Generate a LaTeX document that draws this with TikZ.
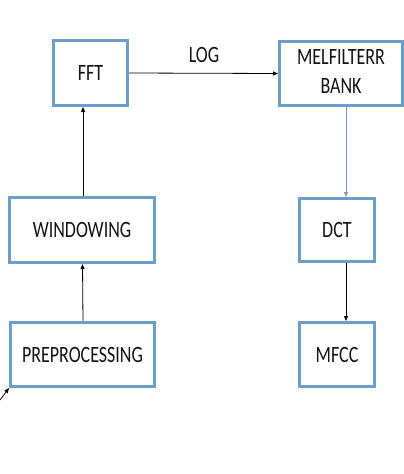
\documentclass[tikz,border=0pt]{standalone}
\usepackage{fontspec}
\setmainfont{Carlito}
\usetikzlibrary{arrows.meta}
\definecolor{boxblue}{RGB}{108,158,204}
\definecolor{linkblue}{RGB}{120,150,190}
\newcommand{\tallt}[1]{\scalebox{1}[1.3]{#1}}
\begin{document}
\begin{tikzpicture}[x=1pt,y=-1pt,
  blockbox/.style={draw=boxblue,line width=3pt,fill=white,inner sep=0pt,
    font=\fontsize{18}{22}\selectfont,text=black!92},
  link/.style={line width=0.8pt,-{Triangle[length=5pt,width=4pt]}},
  lbl/.style={font=\fontsize{18}{22}\selectfont,text=black!92,inner sep=0pt}]
\useasboundingbox (0,0) rectangle (404,474);
\node[blockbox,minimum width=74pt,minimum height=65pt] (fft) at (90.5,73) {\tallt{FFT}};
\node[blockbox,minimum width=123pt,minimum height=64pt] (mel) at (341,73.5)
  {\tallt{\begin{tabular}{@{}c@{}}MELFILTERR\\[0pt]BANK\end{tabular}}};
\node[blockbox,minimum width=145pt,minimum height=65pt] (win) at (82,230) {\tallt{WINDOWING}};
\node[blockbox,minimum width=75pt,minimum height=63pt] (dct) at (337,230) {\tallt{DCT}};
\node[blockbox,minimum width=144pt,minimum height=64pt] (pre) at (82.5,354.5) {\tallt{PREPROCESSING}};
\node[blockbox,minimum width=75pt,minimum height=64pt] (mfcc) at (337,354.5) {\tallt{MFCC}};
\node[lbl] (log) at (204,55) {\tallt{LOG}};
\coordinate (in) at (0,400);
\draw[link] (fft.east) -- (mel.west);
\draw[link] ([xshift=0.5pt]pre.north) -- ([xshift=0.5pt]win.south);
\draw[link] ([xshift=1pt]win.north) -- ([xshift=-7.5pt]fft.south);
\draw[link,draw=linkblue,line width=0.6pt] ([xshift=5pt]mel.south) -- ([xshift=9pt]dct.north);
\draw[link] ([xshift=9pt]dct.south) -- ([xshift=9pt]mfcc.north);
\draw[link] (in) -- (pre.south west);
\end{tikzpicture}
\end{document}
